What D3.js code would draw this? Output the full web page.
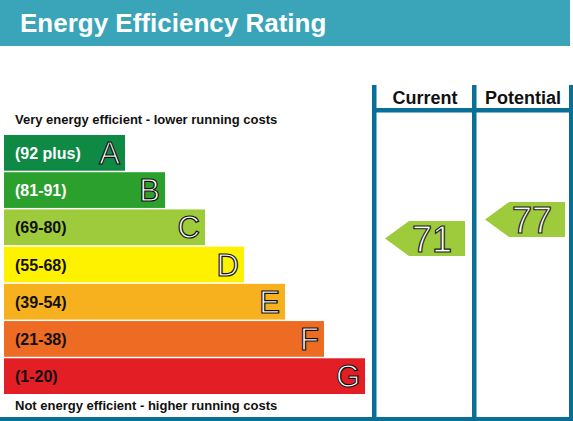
<!DOCTYPE html><html><head><meta charset="utf-8"><script src="https://cdn.jsdelivr.net/npm/d3@7"></script>
<style>body{margin:0;background:#fff}text{font-family:Arial,"Liberation Sans",sans-serif;font-weight:bold}</style></head><body>
<script>
const bands=["A","B","C","D","E","F","G"];
const ranges=["(92 plus)","(81-91)","(69-80)","(55-68)","(39-54)","(21-38)","(1-20)"];
const bandRight=[125,165,205,244,285,324,365];
const colors=["#0f8a45","#2ca02c","#9dcb3c","#fff200","#f7b01e","#ee6b23","#e31e25"];
const current=71, potential=77;
const W=573,H=421;
const svg=d3.select("body").append("svg").attr("width",W).attr("height",H);
svg.append("rect").attr("x",0).attr("y",0).attr("width",570).attr("height",46).attr("fill","#3aa5b8");
svg.append("text").attr("x",20).attr("y",32).attr("fill","#fff").attr("font-size",26).text("Energy Efficiency Rating");
const y=d3.scaleBand().domain(bands).range([135,394]).paddingInner(0.04);
const x=d3.scaleLinear().domain([0,1]).range([4,5]);
svg.append("text").attr("x",15).attr("y",124).attr("font-size",13).attr("fill","#111").text("Very energy efficient - lower running costs");
svg.append("text").attr("x",15).attr("y",410).attr("font-size",13).attr("fill","#111").text("Not energy efficient - higher running costs");
const g=svg.selectAll("g.b").data(bands).enter().append("g");
g.append("rect").attr("x",4).attr("y",d=>y(d)).attr("height",y.bandwidth()).attr("width",(d,i)=>bandRight[i]-4).attr("fill",(d,i)=>colors[i]);
g.append("text").attr("x",15).attr("y",d=>y(d)+y.bandwidth()/2+6).attr("font-size",16).attr("fill",(d,i)=>i<2?"#fff":"#111").text((d,i)=>ranges[i]);
g.append("text").attr("x",(d,i)=>bandRight[i]-5).attr("y",d=>y(d)+y.bandwidth()/2+11).attr("text-anchor","end").attr("font-size",31).attr("font-weight","normal").style("font-weight","normal")
 .attr("fill","#fff").attr("stroke","#111").attr("stroke-width",1.2).text(d=>d);
const blue="#0a6f96";
[[372,85,4.5,336],[472,85,4.5,336],[569,85,4,336],[372,108,201,4.5],[0,417,573,4]].forEach(r=>svg.append("rect").attr("x",r[0]).attr("y",r[1]).attr("width",r[2]).attr("height",r[3]).attr("fill",blue));
svg.append("text").attr("x",425).attr("y",104).attr("text-anchor","middle").attr("font-size",18).attr("fill","#111").text("Current");
svg.append("text").attr("x",523).attr("y",104).attr("text-anchor","middle").attr("font-size",18).attr("fill","#111").text("Potential");
const ys=d3.scaleLinear().domain([71,77]).range([238.5,219.5]);
function arrow(v,x0){const c=ys(v),h=35,x1=x0+80;
 svg.append("path").attr("d",`M${x0},${c}L${x0+24},${c-h/2}L${x1},${c-h/2}L${x1},${c+h/2}L${x0+24},${c+h/2}Z`).attr("fill","#9dcb3c");
 svg.append("text").attr("x",x0+47).attr("y",c+13).attr("text-anchor","middle").attr("font-size",36).style("font-weight","normal").attr("fill","#fff").attr("stroke","#222").attr("stroke-width",1.2).text(v);}
arrow(current,385);arrow(potential,485);
</script></body></html>
